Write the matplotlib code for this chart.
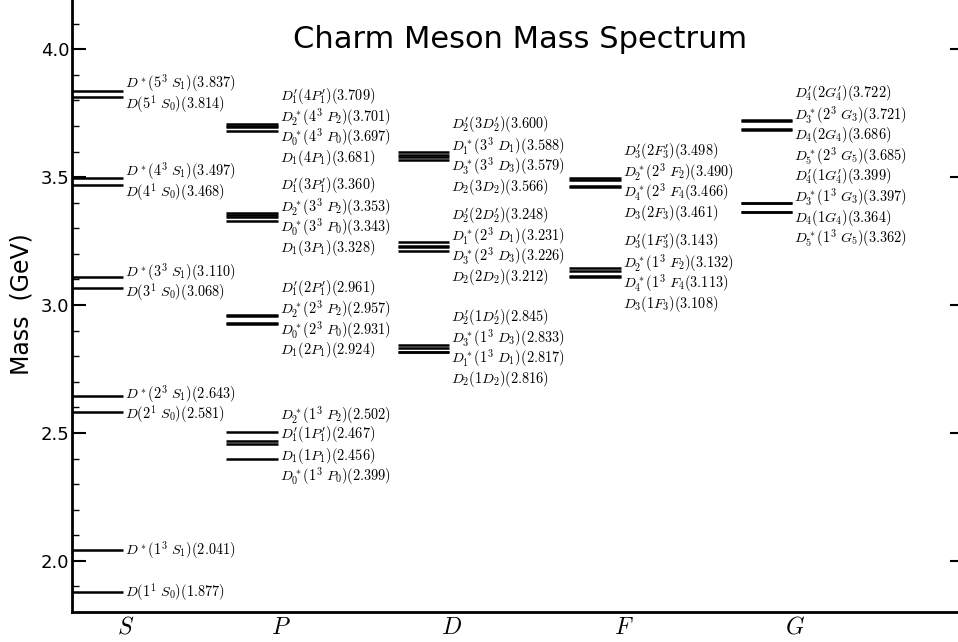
import matplotlib
matplotlib.use('Agg')
import matplotlib.pyplot as plt
from matplotlib.ticker import MultipleLocator

plt.rcParams['mathtext.fontset'] = 'cm'

# familias de ondas L = S, P, D, F, G
waves = ['S', 'P', 'D', 'F', 'G']

S_names = [r"D^*(5^3\ S_1)", r"D(5^1\ S_0)", r"D^*(4^3\ S_1)", r"D(4^1\ S_0)",
           r"D^*(3^3\ S_1)", r"D(3^1\ S_0)", r"D^*(2^3\ S_1)", r"D(2^1\ S_0)",
           r"D^*(1^3\ S_1)", r"D(1^1\ S_0)"]
S_mass = [3.837, 3.814, 3.497, 3.468, 3.110, 3.068, 2.643, 2.581, 2.041, 1.877]

P_names = [r"D_1'(4P_1')", r"D_2^*(4^3\ P_2)", r"D_0^*(4^3\ P_0)", r"D_1(4P_1)",
           r"D_1'(3P_1')", r"D_2^*(3^3\ P_2)", r"D_0^*(3^3\ P_0)", r"D_1(3P_1)",
           r"D_1'(2P_1')", r"D_2^*(2^3\ P_2)", r"D_0^*(2^3\ P_0)", r"D_1(2P_1)",
           r"D_2^*(1^3\ P_2)", r"D_1'(1P_1')", r"D_1(1P_1)", r"D_0^*(1^3\ P_0)"]
P_mass = [3.709, 3.701, 3.697, 3.681, 3.360, 3.353, 3.343, 3.328,
          2.961, 2.957, 2.931, 2.924, 2.502, 2.467, 2.456, 2.399]

D_names = [r"D_2'(3D_2')", r"D_1^*(3^3\ D_1)", r"D_3^*(3^3\ D_3)", r"D_2(3D_2)",
           r"D_2'(2D_2')", r"D_1^*(2^3\ D_1)", r"D_3^*(2^3\ D_3)", r"D_2(2D_2)",
           r"D_2'(1D_2')", r"D_3^*(1^3\ D_3)", r"D_1^*(1^3\ D_1)", r"D_2(1D_2)"]
D_mass = [3.600, 3.588, 3.579, 3.566, 3.248, 3.231, 3.226, 3.212,
          2.845, 2.833, 2.817, 2.816]

F_names = [r"D_3'(2F_3')", r"D_2^*(2^3\ F_2)", r"D_4^*(2^3\ F_4", r"D_3(2F_3)",
           r"D_3'(1F_3')", r"D_2^*(1^3\ F_2)", r"D_4^*(1^3\ F_4", r"D_3(1F_3)"]
F_mass = [3.498, 3.490, 3.466, 3.461, 3.143, 3.132, 3.113, 3.108]

G_names = [r"D_4'(2G_4')", r"D_3^*(2^3\ G_3)", r"D_4(2G_4)", r"D_5^*(2^3\ G_5)",
           r"D_4'(1G_4')", r"D_3^*(1^3\ G_3)", r"D_4(1G_4)", r"D_5^*(1^3\ G_5)"]
G_mass = [3.722, 3.721, 3.686, 3.685, 3.399, 3.397, 3.364, 3.362]

columns = [(S_names, S_mass), (P_names, P_mass), (D_names, D_mass),
           (F_names, F_mass), (G_names, G_mass)]

x_end = [0.3, 1.2, 2.2, 3.2, 4.2]
gap = 0.08

fig = plt.figure(figsize=(9.58, 6.42), dpi=100)
ax = fig.add_axes([72/958, 30/642, 892/958, 614/642])

for i, (names, mass) in enumerate(columns):
    x1 = x_end[i]
    x0 = 0.0 if i == 0 else x1 - 0.3
    ax.hlines(mass, x0, x1, colors='black', linewidth=1.8)

    # agrupar niveles cercanos para repartir las etiquetas
    order = sorted(range(len(mass)), key=lambda k: -mass[k])
    groups = [[order[0]]]
    for k in order[1:]:
        if mass[groups[-1][-1]] - mass[k] < 0.1:
            groups[-1].append(k)
        else:
            groups.append([k])
    for g in groups:
        vals = [mass[k] for k in g]
        center = (max(vals) + min(vals)) / 2
        n = len(g)
        for j, k in enumerate(g):
            y = center + ((n - 1) / 2 - j) * gap
            ax.text(x1 + 0.01, y, f"${names[k]}({mass[k]:.3f})$",
                    ha='left', va='center', fontsize=10.3)

ax.set_xlim(0, 5.2)
ax.set_ylim(1.8, 4.2)
ax.set_xticks([x + 0.015 for x in x_end])
ax.set_xticklabels([f"${w}$" for w in waves], fontsize=17)
ax.yaxis.set_major_locator(MultipleLocator(0.5))
ax.yaxis.set_minor_locator(MultipleLocator(0.1))
ax.tick_params(axis='y', which='major', direction='in', length=10, width=1.5,
               labelsize=13, right=True, pad=2)
ax.tick_params(axis='y', which='minor', direction='in', length=5, width=1)
ax.tick_params(axis='x', length=0, pad=2)
for s in ax.spines.values():
    s.set_linewidth(2)

fig.text(22/958, 1 - 304/642, 'Mass  (GeV)', rotation=90, ha='center',
         va='center', fontsize=17)
fig.text(520/958, 1 - 40/642, 'Charm Meson Mass Spectrum', ha='center',
         va='center', fontsize=22)

fig.savefig('out.png', dpi=100)
